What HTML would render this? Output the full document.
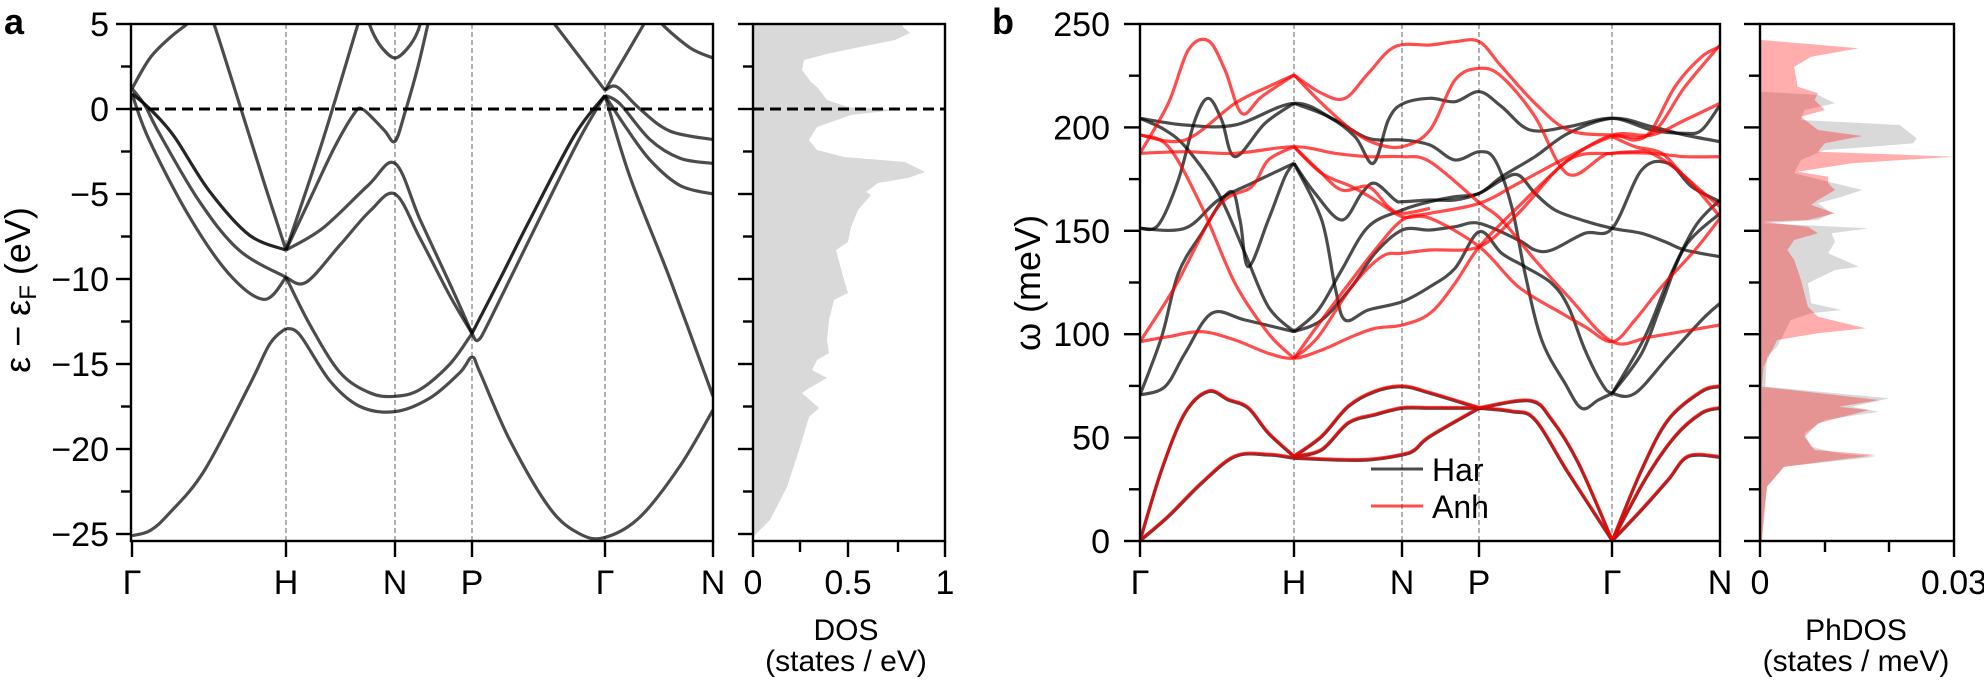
<!DOCTYPE html>
<html><head><meta charset="utf-8"><style>
html,body{margin:0;padding:0;background:#fff;}
svg{display:block;font-family:"Liberation Sans",Arial,sans-serif;}
</style></head><body>
<svg id="s" width="1984" height="680" viewBox="0 0 1984 680" xmlns="http://www.w3.org/2000/svg">
<defs>
<clipPath id="ca"><rect x="131" y="24" width="582" height="517"/></clipPath>
<clipPath id="cd"><rect x="753" y="24" width="192" height="517"/></clipPath>
<clipPath id="cb"><rect x="1140" y="24" width="580" height="517"/></clipPath>
<clipPath id="cp"><rect x="1760" y="24" width="194" height="517"/></clipPath>
</defs>
<g id="dosa" clip-path="url(#cd)"></g>
<g id="dosb" clip-path="url(#cp)"></g>
<g stroke="#888" stroke-width="1.3" stroke-dasharray="5,3">
<line x1="286" y1="24" x2="286" y2="541"/><line x1="395" y1="24" x2="395" y2="541"/><line x1="472" y1="24" x2="472" y2="541"/><line x1="605" y1="24" x2="605" y2="541"/>
<line x1="1294" y1="24" x2="1294" y2="541"/><line x1="1402" y1="24" x2="1402" y2="541"/><line x1="1479" y1="24" x2="1479" y2="541"/><line x1="1612" y1="24" x2="1612" y2="541"/>
</g>
<g id="ba" clip-path="url(#ca)" fill="none" stroke="#000" stroke-opacity="0.7" stroke-width="3.2"></g>
<g id="bb" clip-path="url(#cb)" fill="none" stroke-width="3.2"></g>
<g stroke="#000" stroke-width="3" stroke-dasharray="11,6">
<line x1="131" y1="109" x2="713" y2="109"/><line x1="753" y1="109" x2="945" y2="109"/>
</g>
<g fill="none" stroke="#000" stroke-width="2.4">
<rect x="131" y="24" width="582" height="517"/>
<rect x="753" y="24" width="192" height="517"/>
<rect x="1140" y="24" width="580" height="517"/>
<rect x="1760" y="24" width="194" height="517"/>
</g>
<g id="ticks" stroke="#000" stroke-width="2.4"></g>
<g id="labs" font-size="34" fill="#000"></g>
<text x="4" y="34" font-size="36" font-weight="bold">a</text>
<text x="992" y="34" font-size="36" font-weight="bold">b</text>
<text transform="translate(30,290) rotate(-90)" font-size="36" text-anchor="middle">ε − ε<tspan font-size="24" dy="6">F</tspan><tspan dy="-6"> (eV)</tspan></text>
<text transform="translate(1040,283) rotate(-90)" font-size="36" text-anchor="middle">ω (meV)</text>
<text x="846" y="640" font-size="30" text-anchor="middle">DOS</text>
<text x="846" y="671" font-size="30" text-anchor="middle">(states / eV)</text>
<text x="1856" y="640" font-size="30" text-anchor="middle">PhDOS</text>
<text x="1856" y="671" font-size="30" text-anchor="middle">(states / meV)</text>
<line x1="1371" y1="469" x2="1423" y2="469" stroke="#000" stroke-opacity="0.7" stroke-width="3"/>
<line x1="1371" y1="506" x2="1423" y2="506" stroke="#f00" stroke-opacity="0.7" stroke-width="3"/>
<text x="1432" y="481" font-size="32">Har</text>
<text x="1432" y="518" font-size="32">Anh</text>
</svg>
<script>
var NS="http://www.w3.org/2000/svg";
function el(p,t,a){var e=document.createElementNS(NS,t);for(var k in a)e.setAttribute(k,a[k]);p.appendChild(e);return e;}
function cr(P){var d="M"+P[0][0].toFixed(1)+","+P[0][1].toFixed(1);for(var i=0;i<P.length-1;i++){var p0=P[i-1]||P[i],p1=P[i],p2=P[i+1],p3=P[i+2]||p2;var c1=[p1[0]+(p2[0]-p0[0])/6,p1[1]+(p2[1]-p0[1])/6],c2=[p2[0]-(p3[0]-p1[0])/6,p2[1]-(p3[1]-p1[1])/6];d+="C"+c1[0].toFixed(1)+","+c1[1].toFixed(1)+" "+c2[0].toFixed(1)+","+c2[1].toFixed(1)+" "+p2[0].toFixed(1)+","+p2[1].toFixed(1);}return d;}
var A=[
[[132,1.2],[150,3.0],[170,4.2],[187,5.0],[195,5.5]],
[[206,6],[214,5],[241,0],[265,-4.5],[286,-8.3]],
[[132,0.9],[150,0],[174,-1.6],[209,-4.8],[249,-7.4],[286,-8.3]],
[[132,1.2],[145,0.2],[159,-1.4],[199,-5.4],[239,-8.3],[286,-9.9]],
[[132,0.9],[149,-1.8],[189,-6.3],[229,-9.7],[264,-11.2],[286,-9.9]],
[[132,-25.1],[150,-24.8],[169,-23.8],[204,-21.3],[249,-16.3],[270,-13.8],[286,-12.9]],
[[286,-8.3],[323,-1.8],[358,5],[362,5.6]],
[[286,-8.3],[310,-5.3],[335,-2.2],[355,-0.2],[362,0],[372,-0.5],[385,-1.3],[395,-1.9],[405,-0.2],[418,2.5],[428,5],[432,5.8]],
[[364,6],[372,4.6],[382,3.6],[395,3.0],[408,3.6],[418,4.6],[424,6]],
[[286,-8.3],[323,-7.0],[368,-4.5],[395,-3.2],[420,-6.5],[450,-10.3],[472,-13.2]],
[[286,-9.9],[306,-10.2],[340,-8.0],[370,-6.0],[395,-5.0],[420,-7.6],[450,-11],[472,-13.2]],
[[472,-13.2],[500,-10],[530,-6.5],[575,-1.5],[605,0.8]],
[[472,-13.2],[478,-13.6],[490,-12.4],[540,-6.4],[580,-1.7],[605,0.8]],
[[286,-9.9],[310,-12.7],[340,-15.5],[370,-16.7],[395,-16.9],[420,-16.5],[450,-15],[472,-13.2]],
[[286,-12.9],[300,-13.3],[330,-16],[360,-17.5],[395,-17.8],[430,-17],[460,-15.5],[472,-14.6],[480,-15.5],[510,-19.5],[550,-23.5],[580,-25],[605,-25.2],[640,-24],[680,-21],[713,-17.7]],
[[548,5.5],[605,1.1]],
[[605,1.1],[644,5],[648,5.5]],
[[658,5.6],[662,5],[690,3.6],[713,3.0]],
[[605,1.1],[617,1.3],[640,0],[670,-1.3],[713,-1.8]],
[[605,0.8],[620,0.3],[650,-1.8],[680,-2.9],[713,-3.2]],
[[605,0.8],[625,-1],[650,-3],[680,-4.5],[713,-5.0]],
[[605,0.8],[630,-4],[670,-10],[713,-16.9]]
];
var ba=document.getElementById("ba");
A.forEach(function(b,i){var P=b.map(function(p){return [p[0],109-17*p[1]];});el(ba,"path",{d:cr(P),stroke:"#000","stroke-opacity":(i==2||i==11)?"0.85":"0.7"});});
var D=[[901,20],[903,27],[910,33],[895,40],[831,53],[804,60],[802,70],[811,82],[817,87],[827,100],[848,107],[895,110],[851,115],[817,127],[809,140],[817,150],[844,157],[905,162],[925,172],[908,178],[878,183],[866,192],[871,195],[858,210],[851,227],[848,242],[836,250],[844,280],[848,293],[834,300],[829,320],[827,340],[829,353],[817,360],[812,370],[827,378],[811,387],[802,393],[819,408],[809,417],[800,447],[787,487],[770,520],[755,535],[753,541]];
var dd="M753,20 "+D.map(function(p){return "L"+p[0]+","+p[1];}).join(" ")+" Z";
el(document.getElementById("dosa"),"path",{d:dd,fill:"#d9d9d9"});
function mp(P){return P.map(function(p){return [1750+p[0]/2.94,20+p[1]/3];});}
var G=[[35,215],[200,225],[250,250],[160,270],[150,300],[440,315],[490,355],[480,370],[300,385],[220,390],[150,420],[130,460],[210,480],[330,510],[270,530],[200,550],[240,580],[200,600],[35,610],[350,625],[240,640],[250,665],[230,700],[320,740],[250,750],[170,790],[180,850],[270,870],[180,880],[120,900],[80,980],[50,1010],[45,1100],[410,1135],[300,1160],[380,1175],[220,1200],[160,1240],[180,1280],[260,1300],[370,1310],[100,1340],[50,1400],[40,1480],[35,1563]];
var R=[[35,60],[320,85],[180,110],[130,140],[140,200],[200,220],[190,240],[220,270],[150,290],[200,330],[330,348],[220,370],[200,395],[600,410],[300,430],[140,455],[230,470],[230,490],[250,510],[200,540],[180,555],[250,580],[170,600],[35,605],[170,620],[200,640],[130,660],[110,690],[130,720],[150,780],[170,860],[200,890],[340,925],[200,940],[80,960],[60,1000],[40,1040],[35,1100],[380,1140],[260,1160],[350,1170],[200,1210],[160,1250],[190,1290],[370,1305],[100,1340],[50,1400],[35,1563]];
function poly(P){P=mp(P);return "M1760,"+P[0][1].toFixed(1)+" "+P.map(function(p){return "L"+p[0].toFixed(1)+","+p[1].toFixed(1);}).join(" ")+" L1760,541 Z";}
var db=document.getElementById("dosb");
el(db,"path",{d:poly(G),fill:"#d9d9d9"});
el(db,"path",{d:poly(R),fill:"#ff0000","fill-opacity":"0.32"});
function mb(P){return P.map(function(p){return [1135+p[0]/3,20+p[1]/3];});}
var K=[
[[15,1563],[80,1350],[150,1180],[220,1115],[280,1140],[340,1165],[400,1240],[477,1310]],
[[15,1563],[100,1490],[200,1390],[300,1310],[400,1305],[477,1315]],
[[477,1310],[560,1250],[640,1160],[720,1115],[802,1100],[885,1120],[1033,1165]],
[[477,1310],[560,1290],[640,1210],[720,1185],[802,1165],[885,1165],[1033,1165]],
[[477,1315],[600,1320],[700,1320],[802,1305],[840,1290],[885,1250],[1033,1165]],
[[1033,1165],[1185,1143],[1250,1200],[1330,1330],[1432,1563]],
[[1033,1165],[1130,1175],[1200,1200],[1300,1360],[1432,1563]],
[[1432,1563],[1520,1350],[1600,1200],[1700,1115],[1755,1100]],
[[1432,1563],[1530,1380],[1620,1250],[1700,1180],[1755,1165]],
[[1432,1563],[1520,1470],[1600,1380],[1660,1310],[1755,1312]]
];
var KB=[
[[15,295],[150,315],[300,315],[477,250],[600,300],[700,355],[802,360],[885,375],[960,420],[1033,395],[1080,420],[1130,560],[1170,760],[1220,960],[1290,1090],[1340,1165],[1390,1140],[1432,1120]],
[[15,625],[70,615],[130,480],[180,300],[220,235],[260,300],[300,410],[390,310],[477,250]],
[[15,295],[90,330],[155,385],[250,520],[330,700],[400,860],[477,935]],
[[15,625],[150,625],[250,540],[350,490],[477,430]],
[[15,1125],[90,1100],[150,1000],[230,880],[330,900],[477,935]],
[[15,1125],[80,950],[130,760],[200,640],[285,515],[315,600],[340,740],[400,600],[450,470],[477,430]],
[[477,430],[540,520],[620,600],[680,520],[720,490],[780,540],[802,545],[885,540],[960,540],[1033,520],[1100,480],[1150,465],[1200,520],[1260,570],[1340,600],[1432,625],[1520,640],[1590,665],[1650,690],[1755,710]],
[[477,430],[560,600],[600,800],[630,900],[700,870],[802,845],[885,800],[960,745],[1033,635],[1100,700],[1170,740],[1250,790],[1300,860],[1350,990],[1400,1090],[1432,1120],[1500,1120],[1600,1010],[1700,900],[1755,850]],
[[477,935],[560,900],[650,800],[720,700],[802,630],[885,630],[960,620],[1033,610],[1150,660],[1200,690],[1250,690],[1350,640],[1432,625],[1520,450],[1600,430],[1670,500],[1755,545]],
[[477,935],[550,870],[620,750],[700,620],[802,570],[885,545],[960,530],[1033,520],[1100,470],[1200,410],[1300,340],[1432,295],[1550,320],[1650,345],[1755,365]],
[[477,250],[580,290],[660,350],[715,430],[760,300],[802,252],[885,235],[960,245],[1033,215],[1100,260],[1185,330],[1300,320],[1432,295],[1550,330],[1650,340],[1700,330],[1755,255]],
[[1432,1120],[1520,1000],[1580,850],[1650,680],[1755,580]],
[[1432,1120],[1530,950],[1600,780],[1680,620],[1755,540]]
];
var RB=[
[[15,965],[100,950],[200,935],[300,960],[400,1000],[477,1015],[560,990],[650,950],[720,925],[802,915],[885,880],[960,790],[1033,680],[1150,560],[1300,420],[1432,345],[1550,345],[1650,300],[1755,250]],
[[15,965],[120,800],[250,560],[350,500],[400,420],[477,380]],
[[15,345],[150,360],[300,250],[400,200],[477,165]],
[[15,400],[150,395],[300,400],[477,380],[600,400],[700,410],[802,410],[885,425],[1033,548],[1100,600],[1200,720],[1300,830],[1432,965],[1550,950],[1755,915]],
[[15,345],[100,380],[200,560],[300,790],[400,940],[477,1015]],
[[15,400],[100,250],[160,90],[220,62],[270,150],[320,280],[380,230],[477,165]],
[[477,165],[560,220],[630,235],[700,160],[780,80],[885,75],[960,65],[1033,65],[1100,140],[1200,250],[1300,330],[1432,345],[1550,340],[1650,200],[1755,75]],
[[477,165],[560,250],[650,330],[720,370],[802,380],[885,330],[960,180],[1033,145],[1100,170],[1200,290],[1270,430],[1320,465],[1400,410],[1432,400],[1550,400],[1650,410],[1755,410]],
[[477,380],[560,460],[650,500],[720,540],[802,590],[885,595],[1033,680],[1150,800],[1280,880],[1350,920],[1432,965],[1500,900],[1580,800],[1680,690],[1755,595]],
[[477,1015],[560,900],[650,780],[720,690],[802,600],[885,580],[1033,550],[1150,490],[1300,410],[1432,350],[1500,360],[1550,330],[1620,200],[1700,110],[1755,80]],
[[477,1015],[550,950],[650,800],[740,710],[802,700],[885,690],[1033,680],[1150,580],[1300,420],[1432,400],[1500,395],[1550,400],[1650,470],[1755,590]],
[[477,380],[550,450],[620,510],[700,500],[760,560],[802,580],[885,565]],
[[1432,350],[1500,380],[1580,400],[1650,470],[1755,560]]
];
var bb=document.getElementById("bb");
KB.forEach(function(b){el(bb,"path",{d:cr(mb(b)),stroke:"#000","stroke-opacity":"0.7"});});
RB.forEach(function(b){el(bb,"path",{d:cr(mb(b)),stroke:"#f00","stroke-opacity":"0.7"});});
K.forEach(function(b){el(bb,"path",{d:cr(mb(b)),stroke:"#000","stroke-opacity":"0.7"});});
K.forEach(function(b){el(bb,"path",{d:cr(mb(b).map(function(p){return [p[0],p[1]-0.8];})),stroke:"#f00","stroke-opacity":"0.7"});});
var tk=document.getElementById("ticks"),lb=document.getElementById("labs");
function tx(x,y,s,anc){var t=el(lb,"text",{x:x,y:y,"text-anchor":anc||"middle"});t.textContent=s;}
for(var e=5;e>=-25;e-=2.5){var y=109-17*e,maj=(e%5==0),L=maj?15:10;
 el(tk,"line",{x1:131-L,y1:y,x2:131,y2:y});el(tk,"line",{x1:753-L,y1:y,x2:753,y2:y});
 if(maj)tx(109,y+12,(e<0?"−":"")+Math.abs(e),"end");}
var xs=[[132,"Γ"],[286,"H"],[395,"N"],[472,"P"],[605,"Γ"],[713,"N"]];
xs.forEach(function(p){el(tk,"line",{x1:p[0],y1:541,x2:p[0],y2:557});tx(p[0],594,p[1]);});
[[753,"0",1],[800,"",0],[848,"0.5",1],[898,"",0],[945,"1",1]].forEach(function(p){el(tk,"line",{x1:p[0],y1:541,x2:p[0],y2:p[2]?557:552});if(p[1])tx(p[0],594,p[1]);});
for(var w=0;w<=250;w+=25){var y=541-2.068*w,maj=(w%50==0),L=maj?16:11;
 el(tk,"line",{x1:1140-L,y1:y,x2:1140,y2:y});el(tk,"line",{x1:1760-L,y1:y,x2:1760,y2:y});
 if(maj)tx(1110,y+12,""+w,"end");}
var xb=[[1140,"Γ"],[1294,"H"],[1402,"N"],[1479,"P"],[1612,"Γ"],[1720,"N"]];
xb.forEach(function(p){el(tk,"line",{x1:p[0],y1:541,x2:p[0],y2:557});tx(p[0],594,p[1]);});
[[1760,"0",1],[1825,"",0],[1889,"",0],[1954,"0.03",1]].forEach(function(p){el(tk,"line",{x1:p[0],y1:541,x2:p[0],y2:p[2]?557:552});if(p[1])tx(p[0],594,p[1]);});
</script>
</body></html>
